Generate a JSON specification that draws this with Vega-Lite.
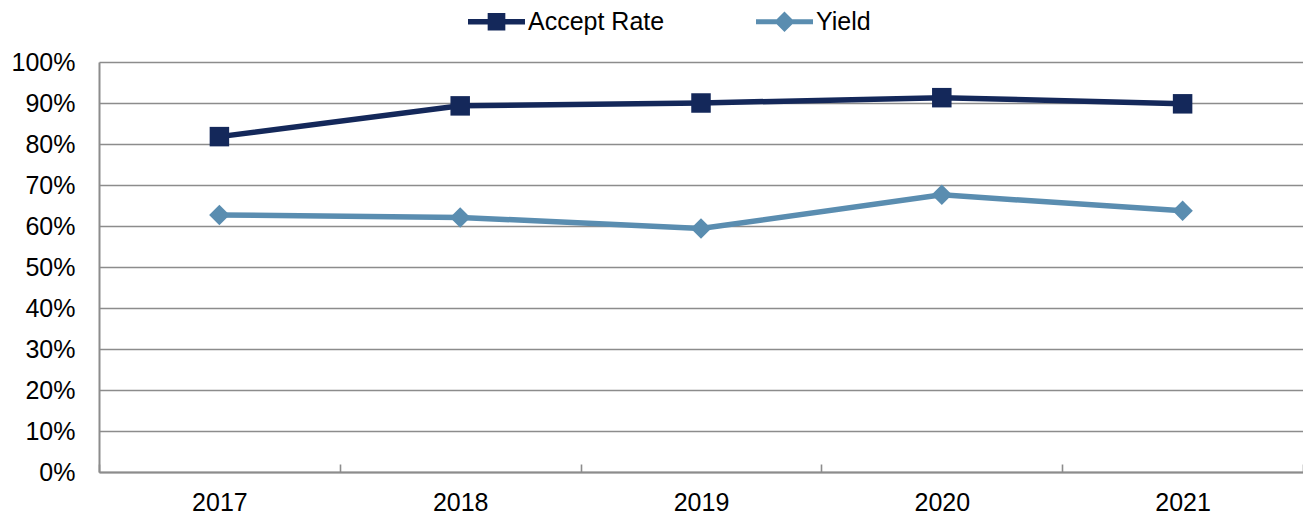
{
  "$schema": "https://vega.github.io/schema/vega-lite/v6.json",
  "width": 1204,
  "height": 410,
  "autosize": "none",
  "padding": {"left": 99, "top": 62, "right": 0, "bottom": 44},
  "background": "white",
  "config": {
    "view": {"stroke": null},
    "font": "Liberation Sans",
    "axis": {"labelFont": "Liberation Sans", "labelFontSize": 25, "labelColor": "#000000", "domainColor": "#8c8c8c", "domainWidth": 2, "gridColor": "#8c8c8c", "gridWidth": 1.6, "tickColor": "#8c8c8c", "tickWidth": 1.6, "title": null}
  },
  "data": {
    "values": [
      {"year": "2017", "series": "Accept Rate", "value": 0.818},
      {"year": "2018", "series": "Accept Rate", "value": 0.893},
      {"year": "2019", "series": "Accept Rate", "value": 0.900},
      {"year": "2020", "series": "Accept Rate", "value": 0.913},
      {"year": "2021", "series": "Accept Rate", "value": 0.898},
      {"year": "2017", "series": "Yield", "value": 0.627},
      {"year": "2018", "series": "Yield", "value": 0.621},
      {"year": "2019", "series": "Yield", "value": 0.594},
      {"year": "2020", "series": "Yield", "value": 0.676},
      {"year": "2021", "series": "Yield", "value": 0.637}
    ]
  },
  "encoding": {
    "x": {
      "field": "year", "type": "nominal",
      "scale": {"type": "band", "paddingInner": 0, "paddingOuter": 0},
      "axis": {"labelAngle": 0, "tickBand": "extent", "tickSize": -8, "labelPadding": 26, "grid": false, "domain": true}
    },
    "y": {
      "field": "value", "type": "quantitative",
      "scale": {"domain": [0, 1], "nice": false},
      "axis": {"format": ".0%", "values": [0, 0.1, 0.2, 0.3, 0.4, 0.5, 0.6, 0.7, 0.8, 0.9, 1.0], "ticks": false, "labelPadding": 24, "grid": true, "domain": true}
    },
    "color": {
      "field": "series", "type": "nominal",
      "scale": {"domain": ["Accept Rate", "Yield"], "range": ["#14285A", "#5A8DB0"]},
      "legend": {
        "title": null,
        "orient": "none",
        "direction": "horizontal",
        "legendX": 369,
        "legendY": -69,
        "padding": 0,
        "labelFont": "Liberation Sans",
        "labelFontSize": 25,
        "labelColor": "#000000",
        "labelOffset": 3,
        "columnPadding": 91,
        "symbolSize": 3249,
        "symbolStrokeWidth": 0,
        "encode": {
          "symbols": {
            "update": {
              "shape": {"signal": "datum.value === 'Yield' ? 'M-1,-0.09H1V0.09H-1Z M0,-0.36L0.36,0L0,0.36L-0.36,0Z' : 'M-1,-0.1H1V0.1H-1Z M-0.31,-0.31H0.31V0.31H-0.31Z'"},
              "fill": {"signal": "scale('color', datum.value)"},
              "fillOpacity": {"value": 1},
              "strokeWidth": {"value": 0},
              "opacity": {"value": 1}
            }
          }
        }
      }
    }
  },
  "layer": [
    {"mark": {"type": "line", "strokeWidth": 5.5}},
    {
      "transform": [{"filter": "datum.series === 'Accept Rate'"}],
      "mark": {"type": "point", "filled": true, "opacity": 1, "shape": "square", "size": 380}
    },
    {
      "transform": [{"filter": "datum.series === 'Yield'"}],
      "mark": {"type": "point", "filled": true, "opacity": 1, "shape": "diamond", "size": 420}
    }
  ]
}
